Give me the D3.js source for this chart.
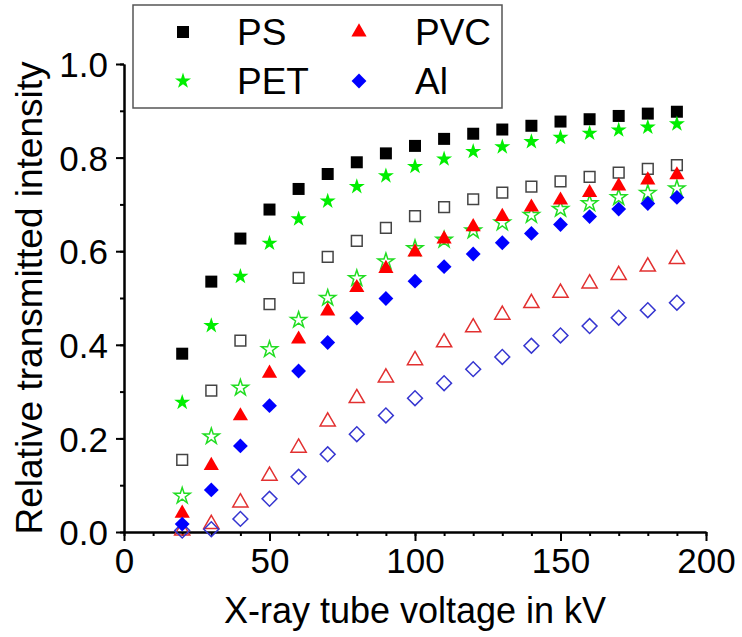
<!DOCTYPE html>
<html>
<head>
<meta charset="utf-8">
<script src="https://cdn.jsdelivr.net/npm/d3@7"></script>
<style>
  body { margin: 0; background: #fff; }
  text { font-family: "Liberation Sans", Arial, sans-serif; fill: #000; }
</style>
</head>
<body>
<div id="chart"></div>
<script>
// tube voltage (kV)
const voltages = [20, 30, 40, 50, 60, 70, 80, 90, 100, 110, 120, 130, 140, 150, 160, 170, 180, 190];

// filled markers
const psFilled  = [0.381, 0.535, 0.627, 0.689, 0.733, 0.765, 0.790, 0.809, 0.825, 0.840, 0.851, 0.860, 0.868, 0.877, 0.882, 0.889, 0.894, 0.898];
const petFilled = [0.277, 0.441, 0.546, 0.617, 0.669, 0.707, 0.738, 0.761, 0.781, 0.797, 0.813, 0.823, 0.834, 0.843, 0.852, 0.859, 0.865, 0.872];
const pvcFilled = [0.040, 0.142, 0.248, 0.339, 0.412, 0.472, 0.522, 0.563, 0.598, 0.626, 0.652, 0.674, 0.694, 0.709, 0.725, 0.739, 0.752, 0.763];
const alFilled  = [0.017, 0.090, 0.184, 0.270, 0.344, 0.405, 0.457, 0.499, 0.536, 0.567, 0.594, 0.618, 0.638, 0.657, 0.674, 0.690, 0.702, 0.715];

// open markers
const psOpen  = [0.154, 0.302, 0.409, 0.487, 0.543, 0.588, 0.622, 0.650, 0.675, 0.694, 0.711, 0.725, 0.738, 0.749, 0.759, 0.768, 0.776, 0.784];
const petOpen = [0.077, 0.204, 0.308, 0.390, 0.453, 0.500, 0.542, 0.578, 0.606, 0.624, 0.644, 0.661, 0.677, 0.690, 0.702, 0.715, 0.724, 0.734];
const pvcOpen = [0.003, 0.017, 0.063, 0.120, 0.180, 0.236, 0.286, 0.330, 0.367, 0.405, 0.437, 0.464, 0.489, 0.511, 0.531, 0.549, 0.567, 0.583];
const alOpen  = [0.003, 0.006, 0.028, 0.071, 0.118, 0.166, 0.209, 0.249, 0.286, 0.318, 0.348, 0.374, 0.398, 0.420, 0.440, 0.458, 0.474, 0.490];

const xTicks = [0, 50, 100, 150, 200];
const yTicks = [0, 0.2, 0.4, 0.6, 0.8, 1.0];

const width = 742, height = 637;
const svg = d3.select("#chart").append("svg")
  .attr("width", width).attr("height", height);

const x = d3.scaleLinear().domain([0, 200]).range([124, 706]);
const y = d3.scaleLinear().domain([0, 1]).range([532, 64]);

// marker shapes
const shapes = {
  square:   { type: d3.symbolSquare,   size: 144, rot: 0 },
  star:     { type: d3.symbolStar,     size: 80,  rot: 0 },
  triangle: { type: d3.symbolTriangle, size: 100, rot: 0 },
  diamond:  { type: d3.symbolSquare,   size: 110, rot: 45 }
};

const series = [
  { vals: psOpen,  shape: "square",   color: "#444444", filled: false, size: 115 },
  { vals: petOpen, shape: "star",     color: "#22dd22", filled: false },
  { vals: pvcOpen, shape: "triangle", color: "#e23030", filled: false },
  { vals: alOpen,  shape: "diamond",  color: "#3535d0", filled: false },
  { vals: psFilled,  shape: "square",   color: "#000000", filled: true },
  { vals: petFilled, shape: "star",     color: "#00ee00", filled: true },
  { vals: pvcFilled, shape: "triangle", color: "#ff0000", filled: true },
  { vals: alFilled,  shape: "diamond",  color: "#0000ff", filled: true }
];

function symbolPath(s, size) {
  const sh = shapes[s];
  return d3.symbol().type(sh.type).size(size || sh.size)();
}

// axes
const xAxis = d3.axisBottom(x).tickValues(xTicks).tickSize(9).tickSizeOuter(0).tickPadding(4);
const xMinor = d3.axisBottom(x).tickValues(d3.range(0, 201, 10)).tickSize(4).tickSizeOuter(0).tickFormat("");
const yAxis = d3.axisLeft(y).tickValues(yTicks).tickSize(8).tickSizeOuter(0).tickPadding(8)
  .tickFormat(d3.format(".1f"));
const yMinor = d3.axisLeft(y).tickValues(d3.range(0, 1.01, 0.1)).tickSize(4).tickSizeOuter(0).tickFormat("");

const gxMinor = svg.append("g").attr("transform", `translate(0,${y(0)})`).call(xMinor);
const gyMinor = svg.append("g").attr("transform", `translate(${x(0)},0)`).call(yMinor);
const gx = svg.append("g").attr("transform", `translate(0,${y(0)})`).call(xAxis);
const gy = svg.append("g").attr("transform", `translate(${x(0)},0)`).call(yAxis);

[gx, gy, gxMinor, gyMinor].forEach(g => {
  g.selectAll("path.domain").attr("stroke", "#000").attr("stroke-width", 2);
  g.selectAll(".tick line").attr("stroke", "#000").attr("stroke-width", 2);
});
gx.selectAll("text").style("font-size", "35px").attr("dy", "0.8em");
gy.selectAll("text").style("font-size", "35px").attr("dy", "0.36em");

// axis titles
svg.append("text")
  .attr("x", x(100)).attr("y", 623)
  .attr("text-anchor", "middle")
  .style("font-size", "36px")
  .text("X-ray tube voltage in kV");

svg.append("text")
  .attr("transform", `translate(42,${y(0.5)}) rotate(-90)`)
  .attr("text-anchor", "middle")
  .style("font-size", "37px")
  .text("Relative transmitted intensity");

// data points
series.forEach(s => {
  svg.append("g").selectAll("path")
    .data(voltages.map((v, i) => [v, s.vals[i]]))
    .join("path")
    .attr("d", symbolPath(s.shape, s.size))
    .attr("transform", d => `translate(${x(d[0])},${y(d[1])}) rotate(${shapes[s.shape].rot})`)
    .attr("fill", s.filled ? s.color : "none")
    .attr("stroke", s.filled ? "none" : s.color)
    .attr("stroke-width", 1.5);
});

// legend
const legend = svg.append("g");
legend.append("rect")
  .attr("x", 133).attr("y", 5).attr("width", 369).attr("height", 103)
  .attr("fill", "#fff").attr("stroke", "#555").attr("stroke-width", 1.5);

const legendItems = [
  { name: "PS",  shape: "square",   color: "#000000", sx: 183, sy: 32, tx: 237 },
  { name: "PVC", shape: "triangle", color: "#ff0000", sx: 359, sy: 32, tx: 415 },
  { name: "PET", shape: "star",     color: "#00ee00", sx: 183, sy: 81, tx: 237 },
  { name: "Al",  shape: "diamond",  color: "#0000ff", sx: 359, sy: 81, tx: 415 }
];
legendItems.forEach(it => {
  legend.append("path")
    .attr("d", symbolPath(it.shape))
    .attr("transform", `translate(${it.sx},${it.sy}) rotate(${shapes[it.shape].rot})`)
    .attr("fill", it.color);
  legend.append("text")
    .attr("x", it.tx).attr("y", it.sy + 13)
    .style("font-size", "37px")
    .text(it.name);
});
</script>
</body>
</html>
